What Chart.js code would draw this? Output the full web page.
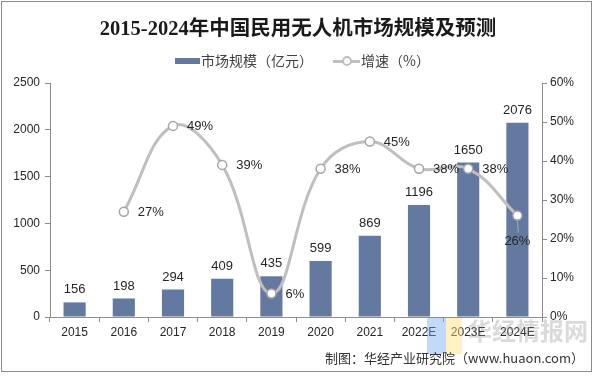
<!DOCTYPE html>
<html><head><meta charset="utf-8">
<script src="https://cdn.jsdelivr.net/npm/chart.js@4"></script>
<style>
html,body{margin:0;padding:0;background:#fff;}
#wrap{position:relative;width:596px;height:378px;overflow:hidden;font-family:"Liberation Sans","Noto Sans CJK SC",sans-serif;}
#frame{position:absolute;left:1px;top:1px;width:591px;height:371px;border:1px solid #8c8c8c;box-sizing:border-box;pointer-events:none;}
canvas{position:absolute;left:0;top:0;}
#title{position:absolute;left:0;width:596px;top:15px;text-align:center;font-family:"Liberation Serif","Noto Sans CJK SC",serif;font-weight:bold;font-size:20.5px;color:#1a1a1a;line-height:26px;}
.leg{position:absolute;top:52px;font-size:14px;color:#404040;font-family:"Noto Sans CJK SC",sans-serif;line-height:17px;}
#src{position:absolute;right:12px;top:348px;font-size:13px;color:#333;font-family:"Noto Sans CJK SC","Liberation Sans",sans-serif;}
#wm{position:absolute;left:468px;top:312px;font-size:24px;font-weight:bold;color:rgba(150,150,150,0.35);font-family:"Noto Sans CJK SC",sans-serif;letter-spacing:0px;}
.blk{position:absolute;}
</style></head>
<body>
<div id="wrap">
<canvas id="c" width="596" height="378"></canvas>
<div class="blk" style="left:427px;top:318px;width:19px;height:36px;background:rgba(120,170,240,0.45);"></div>
<div class="blk" style="left:446px;top:318px;width:16px;height:36px;background:rgba(255,225,120,0.45);"></div>
<div id="wm">华经情报网</div>
<div id="title">2015-2024年中国民用无人机市场规模及预测</div>
<div class="leg" style="left:175px;"><span style="display:inline-block;width:25px;height:6px;background:#64799f;vertical-align:middle;margin-right:1px;position:relative;top:-1px;"></span>市场规模（亿元）</div>
<div class="leg" style="left:333px;"><span style="display:inline-block;position:relative;width:27px;height:10px;vertical-align:middle;margin-right:1px;top:-1px;"><span style="position:absolute;left:0;top:4px;width:27px;height:3px;background:#bfbfbf;"></span><span style="position:absolute;left:9px;top:0px;width:6px;height:6px;border:2px solid #bfbfbf;border-radius:50%;background:#fff;"></span></span>增速（%）</div>
<div id="src">制图：华经产业研究院（www.huaon.com）</div>
<div id="frame"></div>
</div>
<script>
const categories = ["2015","2016","2017","2018","2019","2020","2021","2022E","2023E","2024E"];
const marketSize = [156,198,294,409,435,599,869,1196,1650,2076];
const growthPct = [null,27,49,39,6,38,45,38,38,26];
const leftTicks = [0,500,1000,1500,2000,2500];
const rightTicks = ["0%","10%","20%","30%","40%","50%","60%"];

const axisColor = "#8c8c8c";
const tickFont = {family:"Liberation Sans", size:12};

const labelPlugin = {
  id:"labels",
  afterDatasetsDraw(chart){
    const ctx = chart.ctx;
    ctx.save();
    ctx.font = "13px Liberation Sans";
    ctx.fillStyle = "#262626";
    const bars = chart.getDatasetMeta(0).data;
    ctx.textAlign = "center";
    ctx.textBaseline = "bottom";
    bars.forEach((b,i)=>{ ctx.fillText(String(marketSize[i]), b.x, b.y - 6); });
    const pts = chart.getDatasetMeta(1).data;
    pts.forEach((p,i)=>{
      if(growthPct[i]==null) return;
      const t = growthPct[i] + "%";
      if(i === growthPct.length-1){
        ctx.strokeStyle = "#a6a6a6"; ctx.lineWidth = 1;
        ctx.beginPath(); ctx.moveTo(p.x, p.y + 5); ctx.lineTo(p.x + 1, p.y + 17); ctx.stroke();
        ctx.textAlign = "center"; ctx.textBaseline = "middle";
        ctx.fillText(t, p.x, p.y + 26);
      } else {
        ctx.textAlign = "left"; ctx.textBaseline = "middle";
        ctx.fillText(t, p.x + 14, p.y + 1);
      }
    });
    ctx.restore();
  }
};

new Chart(document.getElementById("c"), {
  data:{
    labels:categories,
    datasets:[
      {type:"bar", label:"市场规模（亿元）", data:marketSize, backgroundColor:"#64799f", yAxisID:"y", barPercentage:0.45, categoryPercentage:1, order:2},
      {type:"line", label:"增速（%）", data:growthPct.map(v=>v==null?null:v/100), yAxisID:"y1", borderColor:"#bfbfbf", borderWidth:3, tension:0.4, pointRadius:4.5, pointBorderWidth:1.5, pointBackgroundColor:"#fff", pointBorderColor:"#a6a6a6", order:1}
    ]
  },
  options:{
    responsive:false, animation:false,
    layout:{padding:{top:83,left:0,right:0,bottom:0}},
    plugins:{legend:{display:false}, title:{display:false}, tooltip:{enabled:false}},
    scales:{
      x:{
        grid:{display:true, drawOnChartArea:false, drawTicks:true, tickLength:5, color:axisColor, offset:true},
        border:{display:true,color:axisColor},
        ticks:{font:tickFont, color:"#262626", padding:3, maxRotation:0},
        afterFit(s){ s.height = 61; }
      },
      y:{
        position:"left", min:0, max:2500,
        afterBuildTicks(s){ s.ticks = leftTicks.map(v=>({value:v})); },
        grid:{display:true, drawOnChartArea:false, drawTicks:true, tickLength:5, color:axisColor},
        border:{display:true,color:axisColor},
        ticks:{font:tickFont, color:"#262626", padding:5, callback:(v,i)=>String(leftTicks[i])},
        afterFit(s){ s.width = 50; }
      },
      y1:{
        position:"right", min:0, max:0.6,
        afterBuildTicks(s){ s.ticks = rightTicks.map((t,i)=>({value:i/10})); },
        grid:{display:true, drawOnChartArea:false, drawTicks:true, tickLength:5, color:axisColor},
        border:{display:true,color:axisColor},
        ticks:{font:tickFont, color:"#262626", padding:3, callback:(v,i)=>rightTicks[i]},
        afterFit(s){ s.width = 54; }
      }
    }
  },
  plugins:[labelPlugin]
});
</script>
</body></html>
